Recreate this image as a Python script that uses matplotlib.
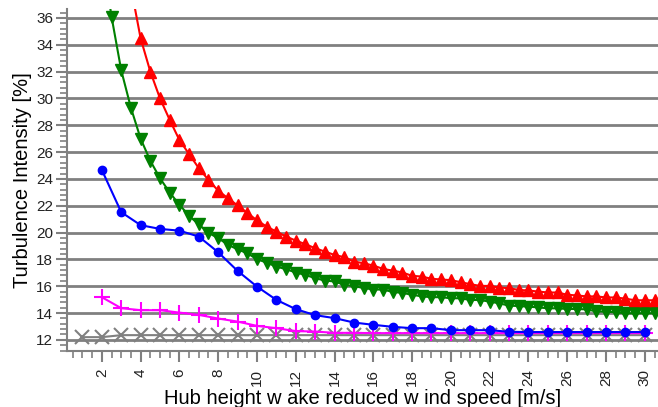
import numpy as np
import matplotlib
matplotlib.use('Agg')
import matplotlib.pyplot as plt
from matplotlib.ticker import MultipleLocator

# --- Data ---
half_steps_red = np.arange(3.5, 31.0, 0.5)
red_ti = [38.3, 34.48, 32.0, 30.0, 28.4, 26.9, 25.85, 24.8, 23.92, 23.12, 22.56,
          22.02, 21.46, 20.91, 20.44, 20.07, 19.7, 19.4, 19.13, 18.83, 18.58,
          18.33, 18.16, 17.84, 17.71, 17.54, 17.29, 17.16, 17.02, 16.77, 16.72,
          16.55, 16.5, 16.45, 16.3, 16.15, 16.02, 16.02, 15.9, 15.85, 15.72,
          15.68, 15.6, 15.53, 15.53, 15.36, 15.31, 15.24, 15.24, 15.16, 15.16,
          15.07, 14.95, 14.95, 14.95]

half_steps_green = np.arange(2.0, 31.0, 0.5)
green_ti = [41.0, 36.1, 32.1, 29.3, 27.0, 25.35, 24.05, 22.98, 22.08, 21.25,
            20.6, 19.98, 19.58, 19.1, 18.74, 18.46, 18.01, 17.76, 17.46, 17.27,
            17.02, 16.84, 16.6, 16.42, 16.35, 16.1, 16.0, 15.87, 15.75, 15.75,
            15.57, 15.5, 15.36, 15.24, 15.18, 15.18, 15.1, 15.1, 14.97, 14.97,
            14.85, 14.72, 14.55, 14.52, 14.47, 14.42, 14.35, 14.35, 14.3, 14.3,
            14.27, 14.12, 14.1, 14.05, 13.98, 13.98, 13.98, 13.98]

speeds_blue = np.arange(2, 31)
blue_ti = [24.67, 21.52, 20.55, 20.27, 20.14, 19.7, 18.53, 17.14, 15.97, 14.98,
           14.29, 13.84, 13.62, 13.29, 13.12, 12.97, 12.87, 12.87, 12.72, 12.72,
           12.72, 12.6, 12.58, 12.58, 12.58, 12.58, 12.58, 12.58, 12.58]

speeds_magenta = np.arange(2, 31)
magenta_ti = [15.18, 14.36, 14.21, 14.21, 14.03, 13.86, 13.59, 13.36, 13.04,
              12.87, 12.65, 12.62, 12.52, 12.52, 12.5, 12.5, 12.5, 12.5, 12.5,
              12.5, 12.5, 12.5, 12.5, 12.5, 12.5, 12.5, 12.5, 12.5, 12.5]

speeds_gray = np.arange(1, 31)
gray_ti = [12.2, 12.2] + [12.35] * 28

plt.rcParams['font.family'] = ['Liberation Sans', 'DejaVu Sans']

fig = plt.figure(figsize=(6.58, 4.07), dpi=100)
ax = fig.add_axes([0.102, 0.138, 0.898, 0.840])

grid_col = '#808080'
ax.yaxis.grid(True, color=grid_col, linewidth=2.0, zorder=0)
ax.set_axisbelow(True)

ax.plot(speeds_gray, gray_ti, color='#808080', marker='x', markersize=10,
        markeredgewidth=1.5, linewidth=1.5, zorder=3)
ax.plot(speeds_magenta, magenta_ti, color='#ff00ff', marker='+', markersize=11,
        markeredgewidth=1.5, linewidth=1.5, zorder=4)
ax.plot(speeds_blue, blue_ti, color='#0000ff', marker='o', markersize=6,
        linewidth=1.5, zorder=5)
ax.plot(half_steps_green, green_ti, color='#008000', marker='v', markersize=8,
        linewidth=1.5, zorder=5)
ax.plot(half_steps_red, red_ti, color='#ff0000', marker='^', markersize=8,
        linewidth=1.5, zorder=6)

ax.set_xlim(0.21, 30.68)
ax.set_ylim(11.18, 36.67)

ax.xaxis.set_major_locator(MultipleLocator(2))
ax.xaxis.set_minor_locator(MultipleLocator(0.5))
ax.yaxis.set_major_locator(MultipleLocator(2))
ax.yaxis.set_minor_locator(MultipleLocator(0.4))

for s in ['top', 'right']:
    ax.spines[s].set_visible(False)
for s in ['left', 'bottom']:
    ax.spines[s].set_color(grid_col)
    ax.spines[s].set_linewidth(1.5)

ax.tick_params(axis='both', which='major', length=8, width=1.5,
               color=grid_col, labelsize=11, labelcolor='#222222')
ax.tick_params(axis='both', which='minor', length=5, width=1.2, color=grid_col)
ax.tick_params(axis='x', which='major', pad=5, labelrotation=90)
ax.tick_params(axis='y', which='major', pad=2)

ax.set_xlabel('Hub height w ake reduced w ind speed [m/s]', fontsize=14.5,
              labelpad=2)
ax.set_ylabel('Turbulence Intensity [%]', fontsize=14.5, labelpad=3)

fig.savefig('out.png', dpi=100)
